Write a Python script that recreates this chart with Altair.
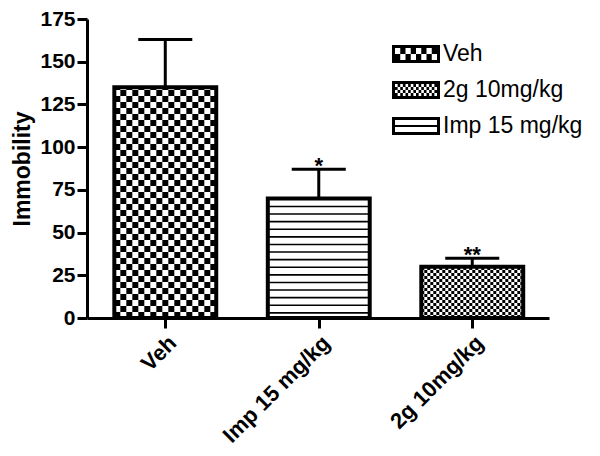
import altair as alt
import pandas as pd

# ---- data ----
categories = ["Veh", "Imp 15 mg/kg", "2g 10mg/kg"]
means = [135, 70, 30]
sems = [28, 17, 5]
stars = ["", "*", "**"]
patterns = ["checker", "stripes", "fine"]
legend_order = ["Veh", "2g 10mg/kg", "Imp 15 mg/kg"]
legend_patterns = ["checker", "fine", "stripes"]
y_ticks = [0, 25, 50, 75, 100, 125, 150, 175]

FONT = "Liberation Sans"

df = pd.DataFrame({
    "cat": categories,
    "pos": list(range(len(categories))),
    "mean": means,
    "sem": sems,
    "star": stars,
    "pattern": patterns,
})

# layout / style constants
W, H = 462, 299
XDOM = [-0.51, 2.5]
YDOM = [0, 175]
HW = 0.332    # bar half width (x units)
CAP = 0.176   # error cap half width
PX_X = W / (XDOM[1] - XDOM[0])   # px per x unit
PX_Y = H / (YDOM[1] - YDOM[0])   # px per y unit

label_expr = " : ".join(
    f"datum.value == {i} ? '{c}'" for i, c in enumerate(categories[:-1])
) + f" : '{categories[-1]}'"

xscale = alt.Scale(domain=XDOM, nice=False, zero=False)
yscale = alt.Scale(domain=YDOM, nice=False)

xaxis = alt.Axis(
    values=list(range(len(categories))), labelExpr=label_expr, title=None,
    grid=False, domainColor="black", domainWidth=3, tickColor="black",
    tickWidth=3, tickSize=10, labelAngle=-45, labelFont=FONT,
    labelFontSize=22, labelFontWeight="bold", labelColor="black",
    labelPadding=4,
)
yaxis = alt.Axis(
    values=y_ticks, title="Immobility", grid=False, domainColor="black",
    domainWidth=3, tickColor="black", tickWidth=3, tickSize=10,
    labelFont=FONT, labelFontSize=21, labelFontWeight="bold",
    labelColor="black", labelPadding=2, titleFont=FONT, titleFontSize=23,
    titleFontWeight="bold", titleColor="black", titlePadding=5,
)


def X(field):
    return alt.X(field, type="quantitative", scale=xscale, axis=xaxis)


def Y(field):
    return alt.Y(field, type="quantitative", scale=yscale, axis=yaxis)


base = alt.Chart(df).transform_calculate(
    x0=f"datum.pos - {HW}", x1=f"datum.pos + {HW}", zero="0",
    top="datum.mean + datum.sem",
    c0=f"datum.pos - {CAP}", c1=f"datum.pos + {CAP}",
)

fill_layer = base.mark_rect(fill="white", strokeWidth=0).encode(
    x=X("x0"), x2="x1", y=Y("mean"), y2="zero"
)


def checker(name, cell_px):
    cw = cell_px / PX_X
    ch = cell_px / PX_Y
    ncols = int(round(2 * HW / cw)) + 1
    return (
        base.transform_filter(f"datum.pattern == '{name}'")
        .transform_calculate(r=f"sequence(0, ceil(datum.mean / {ch}))")
        .transform_flatten(["r"])
        .transform_calculate(c=f"sequence(0, {ncols})")
        .transform_flatten(["c"])
        .transform_filter("(datum.r + datum.c) % 2 == 0")
        .transform_calculate(
            cx0=f"datum.x0 + datum.c * {cw}",
            cx1=f"min(datum.x0 + (datum.c + 1) * {cw}, datum.x1)",
            cy0=f"datum.r * {ch}",
            cy1=f"min((datum.r + 1) * {ch}, datum.mean)",
        )
        .transform_filter("datum.cx0 < datum.x1 && datum.cy0 < datum.mean")
        .mark_rect(color="black", strokeWidth=0)
        .encode(x=X("cx0"), x2="cx1", y=Y("cy0"), y2="cy1")
    )


stripe_gap = 7.6 / PX_Y
stripes = (
    base.transform_filter("datum.pattern == 'stripes'")
    .transform_calculate(ys=f"sequence({3.0}, datum.mean - 2, {stripe_gap})")
    .transform_flatten(["ys"])
    .mark_rule(color="black", strokeWidth=1.6)
    .encode(x=X("x0"), x2="x1", y=Y("ys"))
)

err_line = base.mark_rule(color="black", strokeWidth=3).encode(
    x=X("pos"), y=Y("mean"), y2="top"
)
err_cap = base.mark_rule(color="black", strokeWidth=3).encode(
    x=X("c0"), x2="c1", y=Y("top")
)
outline = base.mark_rect(filled=False, stroke="black", strokeWidth=4).encode(
    x=X("x0"), x2="x1", y=Y("mean"), y2="zero"
)
star_text = base.mark_text(
    font=FONT, fontSize=22, fontWeight="bold", baseline="alphabetic",
    dy=4, color="black",
).encode(x=X("pos"), y=Y("top"), text="star:N")


# ---- legend swatches as custom symbol paths (unit space, 24 px per unit) ----
def r_cw(x0, y0, x1, y1):
    return f"M{x0:.4f},{y0:.4f}H{x1:.4f}V{y1:.4f}H{x0:.4f}Z"


def r_ccw(x0, y0, x1, y1):
    return f"M{x0:.4f},{y0:.4f}V{y1:.4f}H{x1:.4f}V{y0:.4f}Z"


OUT = (-1.0, -0.375, 1.0, 0.375)
IN = (-0.875, -0.25, 0.875, 0.25)


def checker_path(ncols, nrows):
    w = (IN[2] - IN[0]) / ncols
    h = (IN[3] - IN[1]) / nrows
    p = r_cw(*OUT)
    for r in range(nrows):
        for c in range(ncols):
            if (r + c) % 2 == 0:
                p += r_ccw(IN[0] + c * w, IN[1] + r * h,
                           IN[0] + (c + 1) * w, IN[1] + (r + 1) * h)
    return p


def stripes_path():
    p = r_cw(*OUT)
    p += r_ccw(IN[0], IN[1], IN[2], -0.04)
    p += r_ccw(IN[0], 0.04, IN[2], IN[3])
    return p


path_for = {
    "checker": checker_path(8, 2),
    "fine": checker_path(16, 4),
    "stripes": stripes_path(),
}
legend_paths = [path_for[p] for p in legend_patterns]

legend_layer = base.mark_point(filled=True, color="black", opacity=0).encode(
    x=X("pos"), y=Y("zero"),
    shape=alt.Shape(
        "cat:N",
        scale=alt.Scale(domain=legend_order, range=legend_paths),
        legend=alt.Legend(
            title=None, orient="none", legendX=305, legendY=11,
            symbolSize=2304, symbolStrokeWidth=0, symbolFillColor="black",
            labelFont=FONT, labelFontSize=23, labelColor="black",
            labelOffset=3, rowPadding=-2,
        ),
    ),
)

chart = alt.layer(
    legend_layer, fill_layer, checker("checker", 6), checker("fine", 3),
    stripes, err_line, err_cap, outline, star_text,
).properties(
    width=W, height=H, autosize="none",
    padding={"left": 79, "top": 11, "right": 43, "bottom": 130},
    background="white",
).configure_view(stroke=None)

chart.save("out.html", embed_options={"renderer": "svg", "actions": False})
